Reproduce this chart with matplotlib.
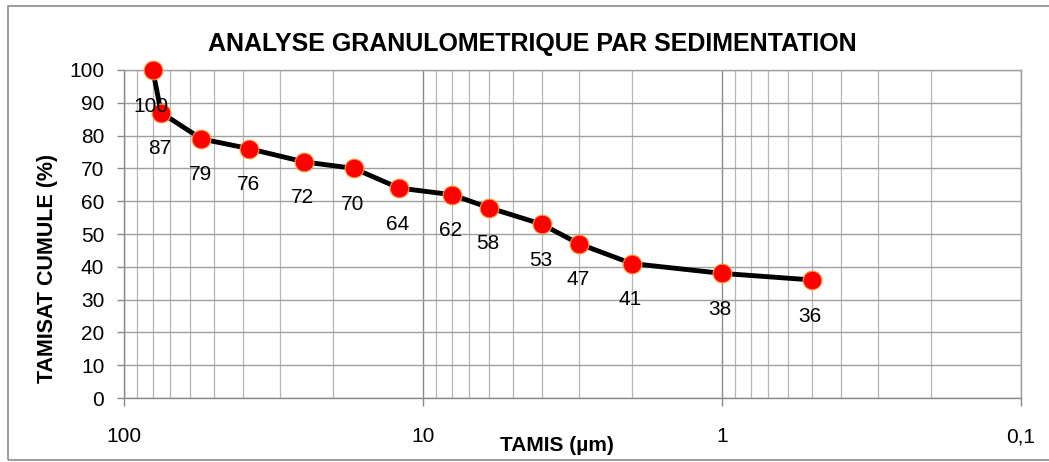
import numpy as np
import matplotlib.pyplot as plt
from matplotlib.ticker import FixedLocator, NullFormatter
from matplotlib.patches import Rectangle

plt.rcParams['font.family'] = ['Liberation Sans', 'DejaVu Sans']

# sieve sizes (um) and cumulative passing (%)
tamis = [80, 75, 55, 38, 25, 17, 12, 8, 6, 4, 3, 2, 1, 0.5]
tamisat = [100, 87, 79, 76, 72, 70, 64, 62, 58, 53, 47, 41, 38, 36]
xticks = [100, 10, 1, 0.1]
xtick_labels = ['100', '10', '1', '0,1']

fig = plt.figure(figsize=(10.49, 4.62), dpi=100)
ax = fig.add_axes([0.118, 0.1385, 0.855, 0.71])

# outer frame of the chart
fig.patches.append(Rectangle((0.008, 0.004), 1.2, 0.982, transform=fig.transFigure,
                             fill=False, edgecolor='#8c8c8c', linewidth=1.2))

ax.set_xscale('log')
ax.set_xlim(100, 0.1)
ax.set_ylim(0, 100)

minor = [m * 10.0 ** e for e in (-1, 0, 1) for m in range(2, 10)]
ax.xaxis.set_major_locator(FixedLocator(xticks))
ax.xaxis.set_minor_locator(FixedLocator(minor))
ax.xaxis.set_minor_formatter(NullFormatter())
ax.set_xticklabels(xtick_labels)
ax.set_yticks(range(0, 101, 10))

ax.grid(True, which='major', axis='x', color='#8a8a8a', linewidth=1.0)
ax.grid(True, which='minor', axis='x', color='#b5b5b5', linewidth=0.9)
ax.grid(True, which='major', axis='y', color='#a0a0a0', linewidth=1.0)
ax.set_axisbelow(True)

for s in ax.spines.values():
    s.set_color('#a0a0a0')
    s.set_linewidth(1.0)
ax.spines['left'].set_color('#8a8a8a')
ax.spines['bottom'].set_color('#8a8a8a')

ax.tick_params(axis='x', which='major', length=6, width=1, color='#8a8a8a',
               pad=15, labelsize=15)
ax.tick_params(axis='x', which='minor', length=0)
ax.tick_params(axis='y', length=5, width=1, color='#8a8a8a', pad=9, labelsize=15)

ax.plot(tamis, tamisat, color='black', linewidth=3.5, marker='o', markersize=13.5,
        markerfacecolor='#ff0000', markeredgecolor='#ff9a3c', markeredgewidth=0.8,
        zorder=3, clip_on=False)

for x, y in zip(tamis, tamisat):
    ax.annotate(str(y), (x, y), xytext=(-1, -26), textcoords='offset points',
                ha='center', va='center', fontsize=15, zorder=4)

fig.text(0.507, 0.905, 'ANALYSE GRANULOMETRIQUE PAR SEDIMENTATION',
         ha='center', va='center', fontsize=18, fontweight='bold')
fig.text(0.045, 0.42, 'TAMISAT CUMULE (%)', rotation=90, ha='center', va='center',
         fontsize=15.5, fontweight='bold')
fig.text(0.531, 0.036, 'TAMIS (µm)', ha='center', va='center',
         fontsize=15, fontweight='bold')

fig.savefig('out.png', dpi=100)
